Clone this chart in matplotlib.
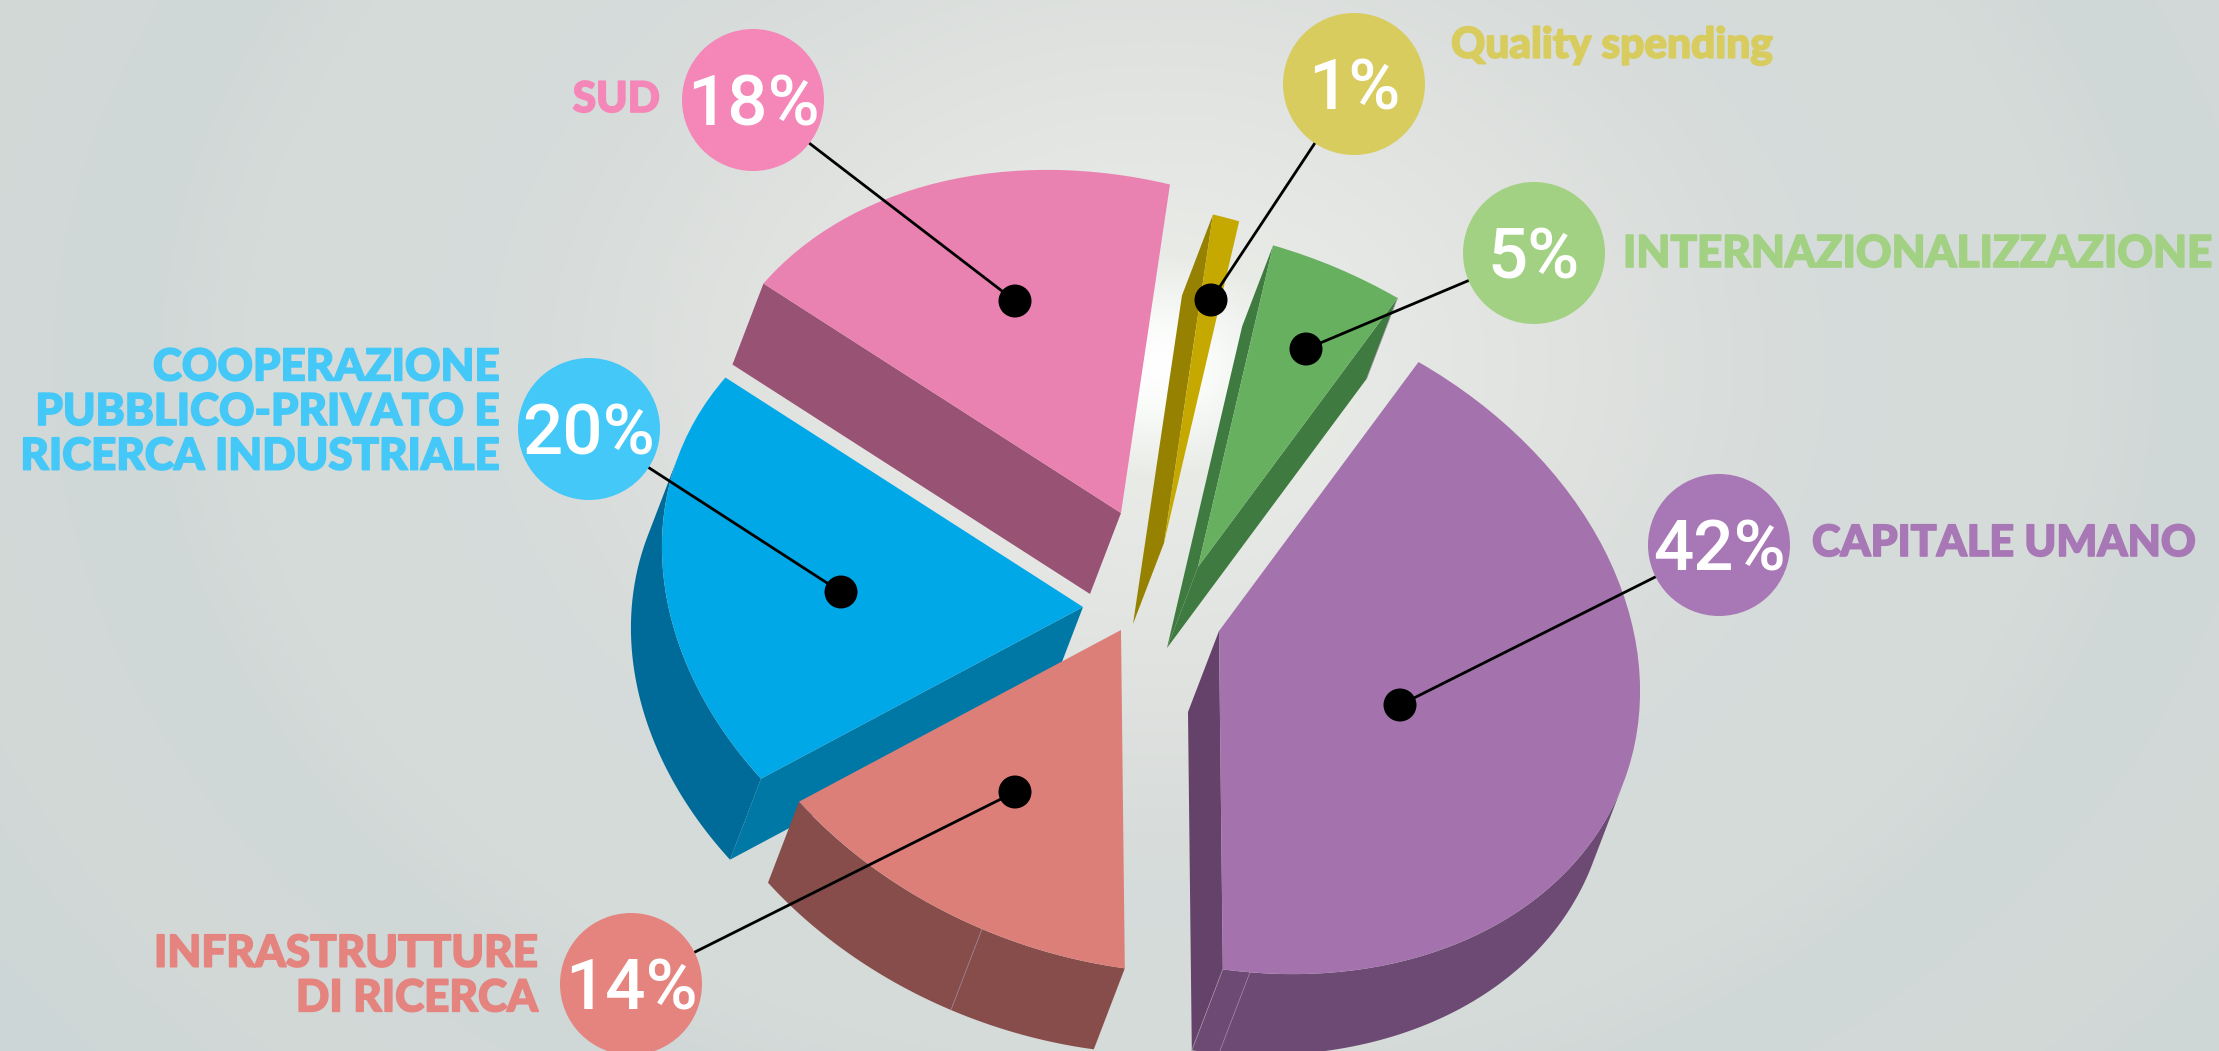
import numpy as np
import matplotlib
matplotlib.use('Agg')
import matplotlib.pyplot as plt
import matplotlib.patheffects as pe
from matplotlib.patches import Wedge, Circle
from matplotlib.transforms import Affine2D

W, H = 2219, 1051

# slices, clockwise from the edge between green and purple
names = ['CAPITALE UMANO', 'INFRASTRUTTURE\nDI RICERCA',
         'COOPERAZIONE\nPUBBLICO-PRIVATO E\nRICERCA INDUSTRIALE', 'SUD',
         'Quality spending', 'INTERNAZIONALIZZAZIONE']
values = [42, 14, 20, 18, 1, 5]
top_colors = ['#a472ac', '#dc7f78', '#00a8e8', '#ea82b1', '#c5a800', '#66b060']
wall_colors = ['#6c4a73', '#874d4b', '#006b98', '#985274', '#978100', '#3f7b41']
edge_colors = ['#654269', '#8c504e', '#0078a6', '#985274', '#978100', '#3f7b41']
bubble_colors = ['#a877b5', '#e5847f', '#44c8f8', '#f587b8', '#d8cc5e', '#a3d183']

# layout, in pixels of the picture
apex = [(1219, 631), (1121, 630), (1083, 607), (1121, 513), (1164, 543), (1198, 567)]
dots = [(1400, 705), (1015, 792), (841, 592), (1015, 301), (1211, 300), (1306, 349)]
bubbles = [(1719, 545), (631, 984), (589, 429), (753, 100), (1354, 84), (1534, 253)]
label_pos = [(1812, 543, 'left'), (538, 976, 'right'), (500, 412, 'right'),
             (660, 100, 'right'), (1451, 46, 'left'), (1623, 254, 'left')]
label_sizes = [31, 31.7, 31.6, 30.5, 30.5, 31.7]
# thin seams on the walls: slice, angle on the disc
seams = [(0, 147.5), (0, 151.2), (1, 171), (5, 360)]
# the tilted disc: where the unit circle's two axes land
axis_a = np.array([199.5, -269.0])
axis_b = np.array([370.8, 213.0])
depth = np.array([-31.0, 81.0])

plt.rcParams['font.family'] = ['Lato', 'DejaVu Sans']

fig = plt.figure(figsize=(W / 100, H / 100), dpi=100)
ax = fig.add_axes([0, 0, 1, 1])

# background glow
yy, xx = np.mgrid[0:H, 0:W]
r = np.hypot((xx - 1157) / 1.3, yy - 365)
stops = [0, 40, 110, 180, 300, 420, 560, 680, 800, 900, 1100]
tones = np.array([[255, 255, 255], [250, 252, 250], [233, 235, 231], [230, 232, 229],
                  [225, 227, 224], [218, 222, 220], [212, 219, 218], [214, 220, 217],
                  [207, 215, 215], [211, 217, 215], [205, 214, 214]])
bg = np.dstack([np.interp(r, stops, tones[:, i]) for i in range(3)]) / 255
ax.imshow(bg, extent=(0, W, H, 0), aspect='auto', zorder=0)


def arc(t1, t2, center, n=200):
    phi = np.radians(np.linspace(t1, t2, n))
    return (np.array(center) + np.outer(np.cos(phi), axis_a) + np.outer(np.sin(phi), axis_b))


M = np.column_stack([axis_a, axis_b])
u = np.linalg.solve(M, depth)  # the extrusion as seen in disc coordinates
turn = np.degrees(np.arctan2(u[1], u[0]))

bounds = np.cumsum([0] + values) * 3.6
order = [3, 2, 4, 5, 1, 0]
for i in order:
    t1, t2 = bounds[i], bounds[i + 1]
    c = np.array(apex[i], dtype=float)

    # straight walls
    for t, sign in ((t1, -1), (t2, 1)):
        phi = np.radians(t)
        normal = sign * np.array([-np.sin(phi), np.cos(phi)])
        if normal @ u > 0:
            p = arc(t, t, c, 1)[0]
            ax.fill([c[0], p[0], p[0] + depth[0], c[0] + depth[0]],
                    [c[1], p[1], p[1] + depth[1], c[1] + depth[1]],
                    color=edge_colors[i], lw=0, zorder=2)

    # curved wall, only the part that faces the viewer
    for k in (-1, 0, 1):
        lo = max(t1, turn - 90 + 360 * k)
        hi = min(t2, turn + 90 + 360 * k)
        if hi > lo:
            pts = arc(lo, hi, c)
            poly = np.vstack([pts, pts[::-1] + depth])
            ax.fill(poly[:, 0], poly[:, 1], color=wall_colors[i], lw=0, zorder=2)

    for j, t in seams:
        if j == i:
            p = arc(t, t, c, 1)[0]
            ax.plot([p[0], p[0] + depth[0]], [p[1], p[1] + depth[1]], color='#a58fa5', lw=0.5, zorder=2)

    tf = Affine2D(np.array([[axis_a[0], axis_b[0], c[0]],
                            [axis_a[1], axis_b[1], c[1]],
                            [0, 0, 1]])) + ax.transData
    ax.add_patch(Wedge((0, 0), 1, t1, t2, fc=top_colors[i], lw=0, transform=tf, zorder=3))

for i in range(len(values)):
    ax.plot([dots[i][0], bubbles[i][0]], [dots[i][1], bubbles[i][1]], color='black', lw=2, zorder=4)
    ax.add_patch(Circle(dots[i], 16.5, fc='black', lw=0, zorder=5))
    ax.add_patch(Circle(bubbles[i], 71, fc=bubble_colors[i], lw=0, zorder=5))
    ax.text(bubbles[i][0], bubbles[i][1] + 6, '%d%%' % values[i], color='white', fontsize=51,
            family=['Roboto', 'Lato'], fontweight='medium', ha='center', va='center', zorder=6)
    x, y, align = label_pos[i]
    t = ax.text(x, y, names[i], color=bubble_colors[i], fontsize=label_sizes[i], fontweight='black',
                ha=align, va='center', multialignment=align, linespacing=1.14, zorder=6)
    t.set_path_effects([pe.withStroke(linewidth=1.2, foreground=bubble_colors[i])])

ax.set_xlim(0, W)
ax.set_ylim(H, 0)
ax.axis('off')

fig.savefig('out.png', dpi=100)
